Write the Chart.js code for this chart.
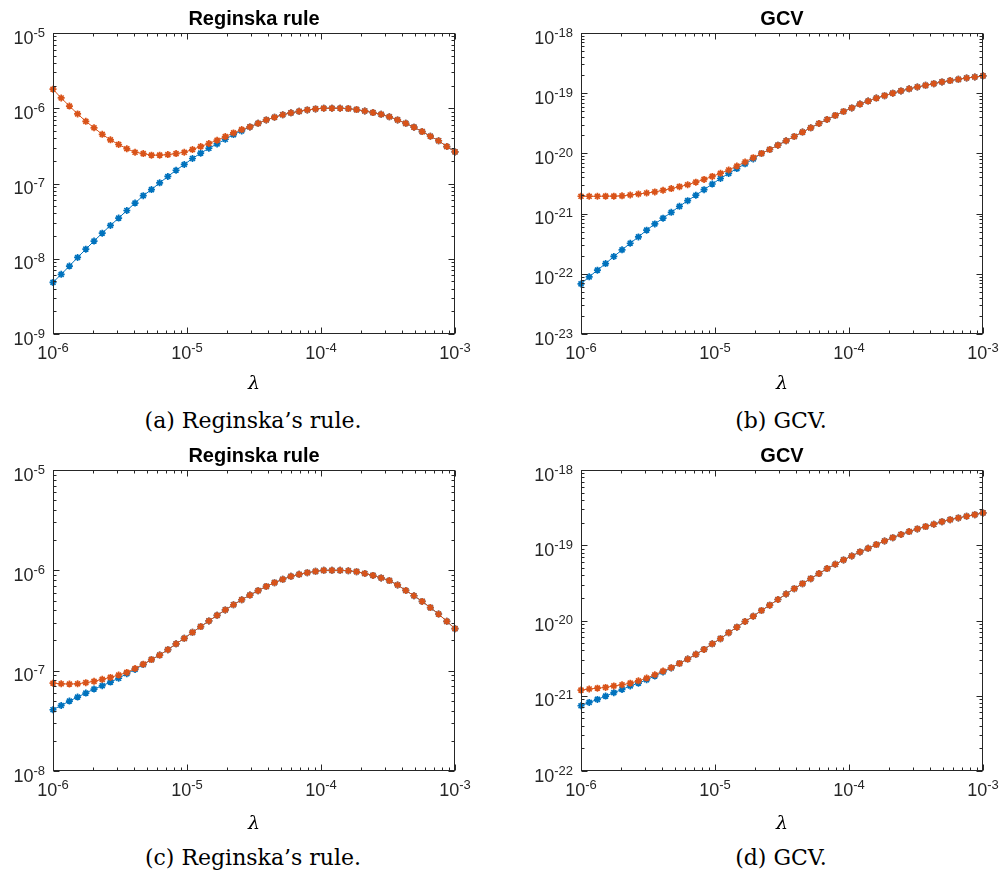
<!DOCTYPE html>
<html>
<head>
<meta charset="utf-8">
<script src="https://cdn.jsdelivr.net/npm/chart.js@4.4.0/dist/chart.umd.min.js"></script>
<style>
  body { margin: 0; background: #fff; width: 1000px; height: 873px; position: relative; overflow: hidden; }
  canvas { position: absolute; }
  .cap { position: absolute; font-family: 'DejaVu Serif', serif; font-size: 22px; color: #000; transform: translateX(-50%); white-space: nowrap; }
</style>
</head>
<body>
<canvas id="regTop" width="500" height="400" style="left:0;top:0"></canvas>
<canvas id="gcvTop" width="500" height="400" style="left:500px;top:0"></canvas>
<canvas id="regBot" width="500" height="400" style="left:0;top:437px"></canvas>
<canvas id="gcvBot" width="500" height="400" style="left:500px;top:437px"></canvas>
<div class="cap" style="left:253px;top:408px">(a) Reginska’s rule.</div>
<div class="cap" style="left:781px;top:408px">(b) GCV.</div>
<div class="cap" style="left:253px;top:845px">(c) Reginska’s rule.</div>
<div class="cap" style="left:781px;top:845px">(d) GCV.</div>
<script>
// lambda grid (x values), in units of 1e-6
const lambda = [
    1.000, 1.151, 1.326, 1.526, 1.758, 2.024, 2.330, 2.683, 3.089, 3.556,
    4.095, 4.715, 5.429, 6.251, 7.197, 8.286, 9.541, 10.985, 12.649, 14.563,
    16.768, 19.307, 22.230, 25.595, 29.471, 33.932, 39.069, 44.984, 51.795, 59.636,
    68.665, 79.060, 91.030, 104.81, 120.68, 138.95, 159.99, 184.21, 212.10, 244.21,
    281.19, 323.75, 372.76, 429.19, 494.17, 568.99, 655.13, 754.31, 868.51, 1000.0
].map(v => v * 1e-6)

const xTicks = [1e-6, 1e-5, 1e-4, 1e-3]
const xTickExps = ['-6', '-5', '-4', '-3']

// (a) Reginska rule, top
const regTopBlue = [
    4.85e-9, 6.2e-9, 8.0e-9, 1.04e-8, 1.34e-8, 1.72e-8, 2.19e-8, 2.77e-8, 3.47e-8, 4.38e-8,
    5.5e-8, 6.9e-8, 8.3e-8, 1.02e-7, 1.24e-7, 1.5e-7, 1.79e-7, 2.15e-7, 2.53e-7, 2.94e-7,
    3.36e-7, 3.87e-7, 4.47e-7, 5.0e-7, 5.65e-7, 6.3e-7, 7.0e-7, 7.6e-7, 8.2e-7, 8.7e-7,
    9.1e-7, 9.5e-7, 9.8e-7, 1.0e-6, 1.0e-6, 1.0e-6, 9.9e-7, 9.6e-7, 9.2e-7, 8.75e-7,
    8.3e-7, 7.7e-7, 7.0e-7, 6.3e-7, 5.6e-7, 4.9e-7, 4.25e-7, 3.7e-7, 3.1e-7, 2.63e-7
]
const regTopOrange = [
    1.79e-6, 1.37e-6, 1.07e-6, 8.4e-7, 6.7e-7, 5.5e-7, 4.5e-7, 3.8e-7, 3.3e-7, 2.9e-7,
    2.6e-7, 2.5e-7, 2.38e-7, 2.38e-7, 2.42e-7, 2.5e-7, 2.6e-7, 2.83e-7, 3.1e-7, 3.4e-7,
    3.76e-7, 4.2e-7, 4.7e-7, 5.2e-7, 5.65e-7, 6.3e-7, 7.0e-7, 7.6e-7, 8.2e-7, 8.7e-7,
    9.1e-7, 9.5e-7, 9.8e-7, 1.0e-6, 1.0e-6, 1.0e-6, 9.9e-7, 9.6e-7, 9.2e-7, 8.75e-7,
    8.3e-7, 7.7e-7, 7.0e-7, 6.3e-7, 5.6e-7, 4.9e-7, 4.25e-7, 3.7e-7, 3.1e-7, 2.63e-7
]
const regTopYTicks = [1e-9, 1e-8, 1e-7, 1e-6, 1e-5]
const regTopYExps = ['-9', '-8', '-7', '-6', '-5']

// (b) GCV, top
const gcvTopBlue = [
    6.8e-23, 8.9e-23, 1.15e-22, 1.48e-22, 1.94e-22, 2.5e-22, 3.22e-22, 4.1e-22, 5.3e-22, 6.75e-22,
    8.4e-22, 1.05e-21, 1.32e-21, 1.64e-21, 2.02e-21, 2.5e-21, 3.1e-21, 3.83e-21, 4.65e-21, 5.6e-21,
    6.7e-21, 8.1e-21, 1.0e-20, 1.16e-20, 1.37e-20, 1.62e-20, 1.91e-20, 2.26e-20, 2.66e-20, 3.14e-20,
    3.66e-20, 4.27e-20, 4.97e-20, 5.7e-20, 6.6e-20, 7.4e-20, 8.3e-20, 9.1e-20, 1.0e-19, 1.09e-19,
    1.18e-19, 1.27e-19, 1.35e-19, 1.44e-19, 1.54e-19, 1.62e-19, 1.70e-19, 1.79e-19, 1.86e-19, 1.94e-19
]
const gcvTopOrange = [
    1.94e-21, 1.94e-21, 1.94e-21, 1.95e-21, 1.95e-21, 1.97e-21, 2.04e-21, 2.12e-21, 2.2e-21, 2.29e-21,
    2.44e-21, 2.6e-21, 2.8e-21, 3.02e-21, 3.33e-21, 3.7e-21, 4.15e-21, 4.68e-21, 5.3e-21, 6.17e-21,
    7.2e-21, 8.5e-21, 1.0e-20, 1.16e-20, 1.37e-20, 1.62e-20, 1.91e-20, 2.26e-20, 2.66e-20, 3.14e-20,
    3.66e-20, 4.27e-20, 4.97e-20, 5.7e-20, 6.6e-20, 7.4e-20, 8.3e-20, 9.1e-20, 1.0e-19, 1.09e-19,
    1.18e-19, 1.27e-19, 1.35e-19, 1.44e-19, 1.54e-19, 1.62e-19, 1.70e-19, 1.79e-19, 1.86e-19, 1.94e-19
]
const gcvTopYTicks = [1e-23, 1e-22, 1e-21, 1e-20, 1e-19, 1e-18]
const gcvTopYExps = ['-23', '-22', '-21', '-20', '-19', '-18']

// (c) Reginska rule, bottom
const regBotBlue = [
    4.08e-8, 4.5e-8, 4.98e-8, 5.46e-8, 5.98e-8, 6.56e-8, 7.08e-8, 7.7e-8, 8.4e-8, 9.33e-8,
    1.03e-7, 1.15e-7, 1.29e-7, 1.43e-7, 1.62e-7, 1.85e-7, 2.1e-7, 2.41e-7, 2.75e-7, 3.13e-7,
    3.56e-7, 4.03e-7, 4.54e-7, 5.09e-7, 5.67e-7, 6.27e-7, 6.92e-7, 7.53e-7, 8.13e-7, 8.71e-7,
    9.12e-7, 9.48e-7, 9.77e-7, 1.0e-6, 1.0e-6, 1.0e-6, 9.9e-7, 9.7e-7, 9.3e-7, 8.9e-7,
    8.4e-7, 7.9e-7, 7.15e-7, 6.3e-7, 5.58e-7, 4.9e-7, 4.25e-7, 3.67e-7, 3.1e-7, 2.62e-7
]
const regBotOrange = [
    7.5e-8, 7.4e-8, 7.36e-8, 7.4e-8, 7.6e-8, 7.83e-8, 8.2e-8, 8.57e-8, 9.05e-8, 9.6e-8,
    1.05e-7, 1.16e-7, 1.29e-7, 1.43e-7, 1.62e-7, 1.85e-7, 2.1e-7, 2.41e-7, 2.75e-7, 3.13e-7,
    3.56e-7, 4.03e-7, 4.54e-7, 5.09e-7, 5.67e-7, 6.27e-7, 6.92e-7, 7.53e-7, 8.13e-7, 8.71e-7,
    9.12e-7, 9.48e-7, 9.77e-7, 1.0e-6, 1.0e-6, 1.0e-6, 9.9e-7, 9.7e-7, 9.3e-7, 8.9e-7,
    8.4e-7, 7.9e-7, 7.15e-7, 6.3e-7, 5.58e-7, 4.9e-7, 4.25e-7, 3.67e-7, 3.1e-7, 2.62e-7
]
const regBotYTicks = [1e-8, 1e-7, 1e-6, 1e-5]
const regBotYExps = ['-8', '-7', '-6', '-5']

// (d) GCV, bottom
const gcvBotBlue = [
    7.36e-22, 8.15e-22, 8.93e-22, 9.9e-22, 1.1e-21, 1.21e-21, 1.35e-21, 1.47e-21, 1.63e-21, 1.83e-21,
    2.07e-21, 2.34e-21, 2.69e-21, 3.07e-21, 3.55e-21, 4.13e-21, 4.9e-21, 5.73e-21, 6.89e-21, 8.15e-21,
    9.7e-21, 1.14e-20, 1.36e-20, 1.6e-20, 1.9e-20, 2.25e-20, 2.65e-20, 3.09e-20, 3.6e-20, 4.2e-20,
    4.9e-20, 5.59e-20, 6.38e-20, 7.2e-20, 8.15e-20, 9.1e-20, 1.02e-19, 1.14e-19, 1.26e-19, 1.39e-19,
    1.52e-19, 1.65e-19, 1.77e-19, 1.9e-19, 2.06e-19, 2.19e-19, 2.31e-19, 2.43e-19, 2.55e-19, 2.69e-19
]
const gcvBotOrange = [
    1.19e-21, 1.23e-21, 1.26e-21, 1.29e-21, 1.35e-21, 1.4e-21, 1.47e-21, 1.58e-21, 1.72e-21, 1.9e-21,
    2.13e-21, 2.36e-21, 2.69e-21, 3.07e-21, 3.55e-21, 4.13e-21, 4.9e-21, 5.73e-21, 6.89e-21, 8.15e-21,
    9.7e-21, 1.14e-20, 1.36e-20, 1.6e-20, 1.9e-20, 2.25e-20, 2.65e-20, 3.09e-20, 3.6e-20, 4.2e-20,
    4.9e-20, 5.59e-20, 6.38e-20, 7.2e-20, 8.15e-20, 9.1e-20, 1.02e-19, 1.14e-19, 1.26e-19, 1.39e-19,
    1.52e-19, 1.65e-19, 1.77e-19, 1.9e-19, 2.06e-19, 2.19e-19, 2.31e-19, 2.43e-19, 2.55e-19, 2.69e-19
]
const gcvBotYTicks = [1e-22, 1e-21, 1e-20, 1e-19, 1e-18]
const gcvBotYExps = ['-22', '-21', '-20', '-19', '-18']

const BLUE = '#0072BD'
const ORANGE = '#D95319'
const AXIS = '#262626'
const BASE_FONT = '18px "Liberation Sans"'
const EXP_FONT = '13px "Liberation Sans"'

// log ticks 1..9 x 10^e between min and max (for the minor marks)
function logMarks(min, max) {
    const out = []
    const e0 = Math.round(Math.log10(min)), e1 = Math.round(Math.log10(max))
    for (let e = e0; e <= e1; e++) {
        for (let m = 1; m <= 9; m++) {
            const v = m * Math.pow(10, e)
            if (v > max * 1.0001) break
            out.push({ v: v, major: m === 1 })
        }
    }
    return out
}

// MATLAB style box with inward ticks on all four sides
const boxTicks = {
    id: 'boxTicks',
    afterDraw(chart) {
        const ctx = chart.ctx
        const a = chart.chartArea
        const x = chart.scales.x, y = chart.scales.y
        const L = Math.round(a.left) + 0.5, R = Math.round(a.right) - 0.5
        const T = Math.round(a.top) + 0.5, B = Math.round(a.bottom) - 0.5
        ctx.save()
        ctx.strokeStyle = AXIS
        ctx.lineWidth = 1
        ctx.strokeRect(L, T, R - L, B - T)
        ctx.beginPath()
        logMarks(x.min, x.max).forEach(t => {
            const px = Math.round(x.getPixelForValue(t.v)) + 0.5
            const len = t.major ? 6 : 3
            ctx.moveTo(px, B); ctx.lineTo(px, B - len)
            ctx.moveTo(px, T); ctx.lineTo(px, T + len)
        })
        logMarks(y.min, y.max).forEach(t => {
            const py = Math.round(y.getPixelForValue(t.v)) + 0.5
            const len = t.major ? 6 : 3
            ctx.moveTo(L, py); ctx.lineTo(L + len, py)
            ctx.moveTo(R, py); ctx.lineTo(R - len, py)
        })
        ctx.stroke()
        ctx.restore()
    }
}

// "10" with a raised exponent, like the MATLAB tick labels
function drawPower(ctx, exp, x, y, align) {
    ctx.font = BASE_FONT
    const w1 = ctx.measureText('10').width
    ctx.font = EXP_FONT
    const w2 = ctx.measureText(exp).width
    const left = align === 'center' ? x - (w1 + w2) / 2 : x - (w1 + w2)
    ctx.font = BASE_FONT
    ctx.fillText('10', left, y)
    ctx.font = EXP_FONT
    ctx.fillText(exp, left + w1, y - 7)
}

function powerLabels(yTicks, yExps) {
    return {
        id: 'powerLabels',
        afterDraw(chart) {
            const ctx = chart.ctx
            const a = chart.chartArea
            const x = chart.scales.x, y = chart.scales.y
            ctx.save()
            ctx.fillStyle = AXIS
            ctx.textBaseline = 'alphabetic'
            ctx.textAlign = 'left'
            xTicks.forEach((v, i) => {
                drawPower(ctx, xTickExps[i], x.getPixelForValue(v), a.bottom + 25, 'center')
            })
            yTicks.forEach((v, i) => {
                drawPower(ctx, yExps[i], a.left - 8, y.getPixelForValue(v) + 10.5, 'right')
            })
            ctx.restore()
        }
    }
}

function series(data, color, order) {
    return {
        data: lambda.map((l, i) => ({ x: l, y: data[i] })),
        borderColor: color,
        backgroundColor: color,
        borderWidth: 1,
        pointStyle: 'star',
        pointRadius: 3.5,
        pointBorderWidth: 1.7,
        pointBorderColor: color,
        tension: 0,
        clip: false,
        order: order
    }
}

function makeChart(id, title, blue, orange, yTicks, yExps, yWidth, padRight, lambdaPad) {
    return new Chart(document.getElementById(id), {
        type: 'line',
        data: {
            datasets: [series(blue, BLUE, 1), series(orange, ORANGE, 0)]
        },
        options: {
            responsive: false,
            animation: false,
            devicePixelRatio: 1,
            layout: { padding: { left: 0, right: padRight, top: 0, bottom: 0 } },
            plugins: {
                legend: { display: false },
                tooltip: { enabled: false },
                title: {
                    display: true,
                    text: title,
                    fullSize: false,
                    color: '#000',
                    font: { family: 'Liberation Sans', size: 20, weight: 'bold' },
                    padding: { top: 7, bottom: 2 }
                }
            },
            scales: {
                x: {
                    type: 'logarithmic',
                    min: 1e-6,
                    max: 1e-3,
                    afterBuildTicks: s => { s.ticks = xTicks.map(v => ({ value: v })) },
                    afterFit: s => { s.height = 66 },
                    grid: { display: false, drawTicks: false },
                    border: { display: false },
                    ticks: { display: false },
                    title: {
                        display: true,
                        text: 'λ',
                        color: '#000',
                        font: { family: 'DejaVu Serif', style: 'italic', size: 19 },
                        padding: { top: 0, bottom: lambdaPad }
                    }
                },
                y: {
                    type: 'logarithmic',
                    min: yTicks[0],
                    max: yTicks[yTicks.length - 1],
                    afterBuildTicks: s => { s.ticks = yTicks.map(v => ({ value: v })) },
                    afterFit: s => { s.width = yWidth },
                    grid: { display: false, drawTicks: false },
                    border: { display: false },
                    ticks: { display: false }
                }
            }
        },
        plugins: [boxTicks, powerLabels(yTicks, yExps)]
    })
}

makeChart('regTop', 'Reginska rule', regTopBlue, regTopOrange, regTopYTicks, regTopYExps, 53, 45, 5)
makeChart('gcvTop', 'GCV', gcvTopBlue, gcvTopOrange, gcvTopYTicks, gcvTopYExps, 81, 17, 5)
makeChart('regBot', 'Reginska rule', regBotBlue, regBotOrange, regBotYTicks, regBotYExps, 53, 45, 2)
makeChart('gcvBot', 'GCV', gcvBotBlue, gcvBotOrange, gcvBotYTicks, gcvBotYExps, 81, 17, 2)
</script>
</body>
</html>
